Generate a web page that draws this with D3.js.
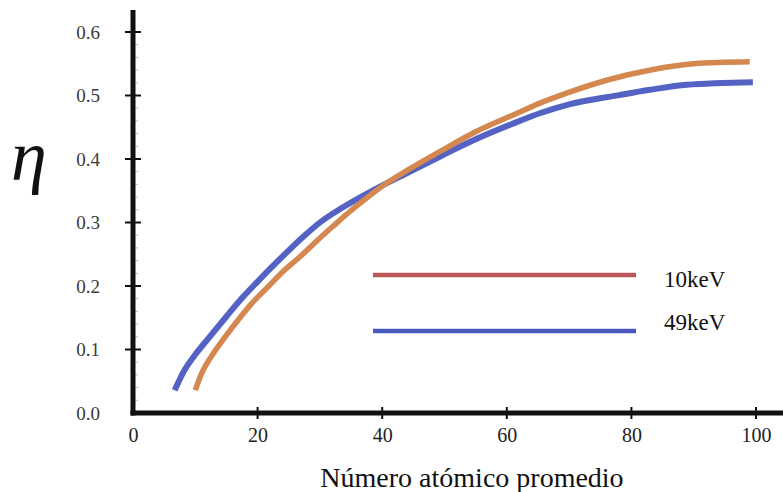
<!DOCTYPE html>
<html>
<head>
<meta charset="utf-8">
<script src="https://cdn.jsdelivr.net/npm/d3@7"></script>
<style>
  html, body { margin: 0; padding: 0; background: #ffffff; }
  svg { display: block; }
</style>
</head>
<body>
<svg id="chart" width="783" height="492"></svg>
<script>
// ---- data ----
const seriesNames = ["10keV", "49keV"];
const z10 = [10, 11, 12.5, 14.8, 17, 19.1, 21.5, 24, 26.8, 29.5, 32.1, 34.3, 36.4, 40.1, 44, 49.3, 55, 62.1, 65.3, 69.7, 76, 83.5, 90, 99];
const eta10 = [0.036, 0.062, 0.088, 0.120, 0.148, 0.173, 0.197, 0.222, 0.246, 0.271, 0.294, 0.313, 0.330, 0.358, 0.382, 0.412, 0.443, 0.474, 0.488, 0.504, 0.524, 0.541, 0.550, 0.553];
const z49 = [6.7, 8.3, 10, 12.4, 15, 17.5, 20, 22.5, 25, 27.5, 30, 33.7, 38, 44, 49.3, 55, 62.1, 65.3, 70, 78.2, 83, 88.9, 99.5];
const eta49 = [0.036, 0.068, 0.092, 0.121, 0.152, 0.181, 0.207, 0.232, 0.256, 0.279, 0.300, 0.324, 0.348, 0.378, 0.404, 0.431, 0.460, 0.472, 0.486, 0.501, 0.509, 0.517, 0.521];
const xTicks = [0, 20, 40, 60, 80, 100];
const yTicks = [0.0, 0.1, 0.2, 0.3, 0.4, 0.5, 0.6];
const xTitle = "Número atómico promedio";
const yTitle = "η";

const svg = d3.select("#chart");
const x = d3.scaleLinear().domain([0, 100]).range([133, 756]);
const y = d3.scaleLinear().domain([0, 0.6]).range([413, 32]);

const serif = "'Liberation Serif', 'Times New Roman', serif";

// minor ticks on y axis
const minor = d3.range(0.02, 0.62, 0.02).filter(v => Math.abs(v * 10 - Math.round(v * 10)) > 1e-6);
svg.append("g").selectAll("line").data(minor).join("line")
  .attr("x1", x(0)).attr("x2", x(0) + 5)
  .attr("y1", d => y(d)).attr("y2", d => y(d))
  .attr("stroke", "#bbb").attr("stroke-width", 1);

// curves
const line = d3.line().x(d => x(d[0])).y(d => y(d[1])).curve(d3.curveMonotoneX);
const d10 = z10.map((z, i) => [z, eta10[i]]);
const d49 = z49.map((z, i) => [z, eta49[i]]);
svg.append("path").attr("d", line(d49)).attr("fill", "none")
  .attr("stroke", "#5462c4").attr("stroke-width", 6).attr("stroke-linecap", "butt");
svg.append("path").attr("d", line(d10)).attr("fill", "none")
  .attr("stroke", "#d4874e").attr("stroke-width", 5.5).attr("stroke-linecap", "butt");

// axes
const yAxis = svg.append("g").attr("transform", `translate(${x(0)},0)`)
  .call(d3.axisLeft(y).tickValues(yTicks).tickFormat(d3.format(".1f")).tickSize(0).tickPadding(33));
yAxis.select(".domain").remove();
yAxis.selectAll("text").attr("font-family", serif).attr("font-size", 19).attr("fill", "#3a3a3a");

const xAxis = svg.append("g").attr("transform", `translate(0,${y(0)})`)
  .call(d3.axisBottom(x).tickValues(xTicks).tickSize(0).tickPadding(15));
xAxis.select(".domain").remove();
xAxis.selectAll("text").attr("font-family", serif).attr("font-size", 20).attr("fill", "#222");

// tick marks crossing axes
svg.append("g").selectAll("line").data(yTicks.slice(1)).join("line")
  .attr("x1", x(0) - 8).attr("x2", x(0) + 8)
  .attr("y1", d => y(d)).attr("y2", d => y(d))
  .attr("stroke", "#111").attr("stroke-width", 2);
svg.append("g").selectAll("line").data(xTicks.slice(1)).join("line")
  .attr("x1", d => x(d)).attr("x2", d => x(d))
  .attr("y1", y(0) - 6).attr("y2", y(0) + 6)
  .attr("stroke", "#111").attr("stroke-width", 2);

// axis lines
svg.append("line").attr("x1", x(0)).attr("x2", x(0)).attr("y1", 10).attr("y2", y(0) + 2.5)
  .attr("stroke", "#111").attr("stroke-width", 5);
svg.append("line").attr("x1", x(0) - 2.5).attr("x2", 783).attr("y1", y(0)).attr("y2", y(0))
  .attr("stroke", "#111").attr("stroke-width", 5);

// titles
svg.append("text").attr("x", 472).attr("y", 487).attr("text-anchor", "middle")
  .attr("font-family", serif).attr("font-size", 28).attr("fill", "#111").text(xTitle);
svg.append("text").attr("x", 11).attr("y", 180)
  .attr("font-family", serif).attr("font-style", "italic").attr("font-size", 72)
  .attr("fill", "#111").text(yTitle);

// legend
const legendColors = ["#b9575a", "#4a57bc"];
const legendY = [275, 331];
const legendTextY = [287, 330];
const lg = svg.append("g");
seriesNames.forEach((name, i) => {
  lg.append("line").attr("x1", 373).attr("x2", 636).attr("y1", legendY[i]).attr("y2", legendY[i])
    .attr("stroke", legendColors[i]).attr("stroke-width", 4.5);
  lg.append("text").attr("x", 664).attr("y", legendTextY[i])
    .attr("font-family", serif).attr("font-size", 23).attr("fill", "#111").text(name);
});
</script>
</body>
</html>
